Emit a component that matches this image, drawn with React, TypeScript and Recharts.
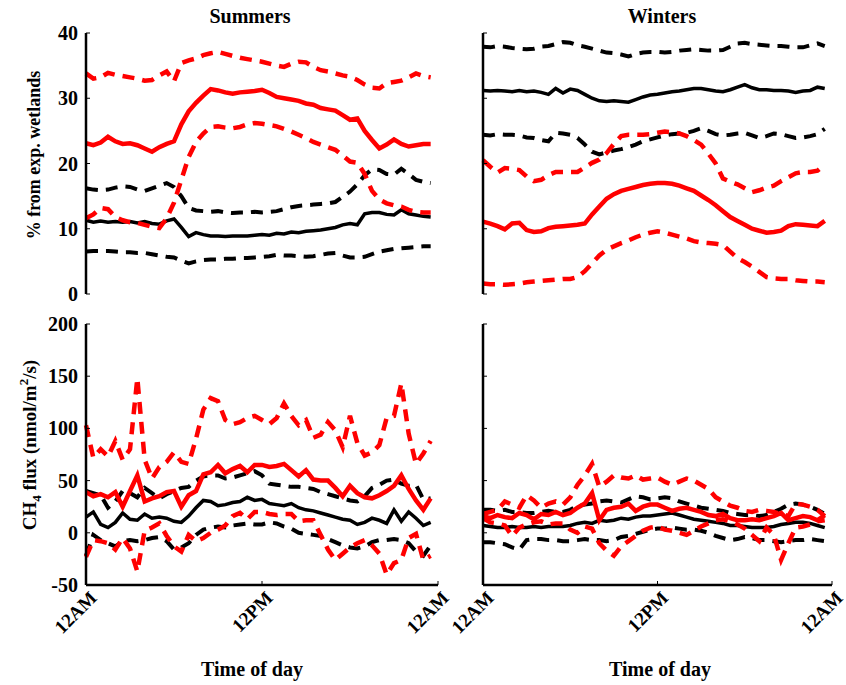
import React from "react";
import { LineChart, Line, XAxis, YAxis } from "recharts";

const FONT = '"Liberation Serif", "Times New Roman", Times, serif';

// half-hour time of day
const HOURS = [
  0, 0.5, 1, 1.5, 2, 2.5, 3, 3.5, 4, 4.5, 5, 5.5, 6, 6.5, 7, 7.5, 8, 8.5, 9, 9.5, 10, 10.5, 11, 11.5,
  12, 12.5, 13, 13.5, 14, 14.5, 15, 15.5, 16, 16.5, 17, 17.5, 18, 18.5, 19, 19.5, 20, 20.5, 21, 21.5, 22, 22.5, 23, 23.5,
];

// % from exp. wetlands, summers
const sumPctRed = [
  23.1, 22.8, 23.2, 24.1, 23.4, 23.0, 23.1, 22.8, 22.3, 21.8, 22.5, 23.0, 23.4, 26.0, 28.0, 29.3, 30.4, 31.4, 31.2, 30.9, 30.7, 30.9, 31.0, 31.1,
  31.3, 30.8, 30.2, 30.0, 29.8, 29.6, 29.2, 29.0, 28.5, 28.3, 28.1, 27.4, 26.7, 26.9, 25.0, 23.6, 22.3, 22.9, 23.7, 23.0, 22.6, 22.8, 23.0, 23.0,
];
const sumPctRedHi = [
  33.8, 33.0, 33.2, 33.9, 33.6, 33.4, 33.2, 33.0, 32.7, 32.8, 33.5, 34.1, 32.6, 35.4, 35.8, 36.1, 36.6, 36.9, 37.1, 36.8, 36.5, 36.2, 36.0, 35.8,
  35.6, 35.3, 35.0, 34.8, 35.3, 35.6, 35.5, 34.8, 34.3, 34.1, 33.8, 33.5, 33.3, 32.8, 32.1, 31.6, 31.5, 32.3, 32.5, 32.7, 33.2, 33.8, 33.4, 33.2,
];
const sumPctRedLo = [
  11.6, 12.2, 13.2, 13.0, 11.8, 11.3, 11.0, 10.9, 10.6, 10.3, 10.1, 11.6, 14.0, 17.5, 21.0, 23.3, 24.6, 25.6, 25.7, 25.5, 25.4, 25.6, 26.0, 26.2,
  26.1, 25.9, 25.7, 25.3, 24.9, 24.4, 23.9, 23.3, 22.9, 22.5, 22.1, 21.2, 20.3, 20.1, 18.4, 15.8, 14.5, 13.9, 13.6, 13.4, 12.9, 12.6, 12.5, 12.5,
];
const sumPctBlk = [
  11.3, 11.0, 11.2, 11.0, 11.1, 11.0, 11.1, 10.9, 11.1, 10.8, 10.7, 11.2, 11.5, 10.2, 8.8, 9.4, 9.1, 8.9, 8.9, 8.8, 8.9, 8.9, 8.9, 9.0,
  9.1, 9.0, 9.3, 9.2, 9.5, 9.4, 9.6, 9.7, 9.8, 10.0, 10.2, 10.6, 10.8, 10.6, 12.3, 12.5, 12.5, 12.2, 12.1, 12.9, 12.3, 12.1, 11.9, 11.8,
];
const sumPctBlkHi = [
  16.2, 16.0, 15.9, 16.0, 16.3, 16.5, 16.4, 16.0, 15.8, 16.2, 16.6, 17.0, 16.4, 15.0, 13.2, 12.8, 12.7, 12.6, 12.7, 12.5, 12.4, 12.5, 12.5, 12.6,
  12.5, 12.6, 12.7, 13.0, 13.3, 13.5, 13.6, 13.7, 13.8, 13.9, 14.1, 14.9, 15.7, 16.8, 18.2, 19.1, 19.0, 18.4, 18.3, 19.2, 18.4, 17.5, 17.2, 17.0,
];
const sumPctBlkLo = [
  6.5, 6.6, 6.6, 6.6, 6.5, 6.4, 6.4, 6.3, 6.3, 6.1, 5.9, 5.7, 5.6, 5.1, 4.7, 5.0, 5.2, 5.3, 5.3, 5.4, 5.4, 5.5, 5.5, 5.6,
  5.7, 5.8, 6.0, 5.9, 5.9, 5.8, 5.7, 5.8, 6.0, 6.2, 6.3, 5.9, 5.6, 5.6, 5.7, 6.1, 6.5, 6.7, 6.9, 7.0, 7.1, 7.2, 7.3, 7.3,
];

// % from exp. wetlands, winters
const winPctRed = [
  11.1, 10.8, 10.4, 9.9, 10.8, 10.9, 9.8, 9.5, 9.6, 10.1, 10.3, 10.4, 10.5, 10.6, 10.8, 12.2, 13.4, 14.6, 15.3, 15.8, 16.1, 16.4, 16.7, 16.9,
  17.0, 17.0, 16.9, 16.6, 16.2, 15.8, 15.1, 14.4, 13.6, 12.7, 11.8, 11.2, 10.6, 10.0, 9.7, 9.4, 9.5, 9.7, 10.4, 10.7, 10.6, 10.5, 10.4, 11.2,
];
const winPctRedHi = [
  20.5, 19.5, 18.6, 19.3, 19.2, 19.0, 18.0, 17.3, 17.5, 18.2, 18.7, 18.7, 18.7, 18.7, 19.4, 20.1, 20.6, 21.6, 23.0, 24.2, 24.4, 24.4, 24.4, 24.5,
  24.7, 24.9, 24.8, 24.6, 24.2, 23.6, 22.9, 21.5, 20.0, 17.7, 17.2, 16.8, 16.2, 15.6, 15.9, 16.3, 16.6, 17.3, 17.9, 18.5, 18.7, 18.7, 18.9, 19.8,
];
const winPctRedLo = [
  1.6, 1.5, 1.5, 1.4, 1.5, 1.6, 1.8, 1.9, 2.0, 2.1, 2.2, 2.3, 2.3, 2.6, 3.5, 4.7, 5.9, 6.8, 7.3, 7.8, 8.2, 8.7, 9.1, 9.4,
  9.6, 9.4, 9.1, 8.8, 8.5, 8.1, 7.9, 7.8, 7.7, 7.5, 6.5, 5.5, 4.9, 4.2, 3.4, 2.6, 2.4, 2.3, 2.3, 2.1, 2.0, 1.9, 1.9, 1.8,
];
const winPctBlk = [
  31.2, 31.1, 31.2, 31.1, 31.0, 31.2, 31.0, 31.1, 30.9, 30.6, 31.5, 30.8, 31.4, 31.2, 30.6, 30.0, 29.6, 29.5, 29.6, 29.5, 29.4, 29.8, 30.2, 30.5,
  30.6, 30.8, 31.0, 31.1, 31.3, 31.5, 31.5, 31.3, 31.1, 31.0, 31.3, 31.7, 32.1, 31.6, 31.3, 31.3, 31.2, 31.2, 31.1, 30.9, 31.1, 31.2, 31.7, 31.5,
];
const winPctBlkHi = [
  37.9, 37.8, 38.0, 37.9, 37.7, 37.6, 37.5, 37.6, 37.9, 38.0, 38.3, 38.6, 38.5, 38.1, 37.9, 37.6, 37.3, 37.0, 36.9, 36.7, 36.4, 36.8, 37.0, 37.1,
  37.1, 37.0, 37.1, 37.3, 37.4, 37.5, 37.4, 37.3, 37.3, 37.4, 37.9, 38.4, 38.5, 38.3, 38.2, 38.1, 38.0, 38.0, 37.9, 37.8, 37.8, 38.1, 38.4, 38.0,
];
const winPctBlkLo = [
  24.4, 24.3, 24.5, 24.4, 24.4, 24.3, 24.0, 23.9, 23.6, 23.4, 24.7, 24.6, 24.4, 23.9, 22.9, 21.8, 21.4, 21.7, 22.0, 22.2, 22.5, 22.9, 23.4, 23.7,
  24.0, 24.3, 24.5, 24.6, 24.7, 25.0, 25.4, 25.0, 24.5, 24.3, 24.4, 24.6, 24.7, 24.3, 23.9, 24.2, 24.6, 24.5, 24.2, 23.9, 24.0, 24.2, 24.5, 25.3,
];

// CH4 flux, summers
const sumFluxRed = [
  39, 35, 37, 34, 39, 25, 40, 55, 30, 33, 35, 39, 40, 25, 36, 40, 56, 58, 65, 57, 61, 64, 58, 65,
  65, 63, 64, 66, 60, 54, 60, 51, 50, 50, 43, 35, 45, 38, 34, 33, 36, 40, 45, 55, 42, 31, 22, 33,
];
const sumFluxRedHi = [
  103, 72, 80, 73, 88, 70, 80, 148, 70, 52, 63, 68, 77, 68, 66, 90, 118, 129, 126, 108, 104, 106, 110, 112,
  108, 104, 110, 124, 112, 103, 108, 91, 94, 106, 98, 82, 112, 86, 74, 77, 84, 110, 112, 143, 95, 66, 76, 88,
];
const sumFluxRedLo = [
  -23, -7, -8, -10, -16, -5, -15, -37, 2, 5, 9, -3, -13, -18, -2, -8, -5, 0, 3, 7, 16, 19, 13, 20,
  20, 18, 17, 18, 18, 11, 12, 12, -2, -16, -26, -20, -14, -10, -7, -12, -20, -40, -29, -26, -5, -1, -26, -22,
];
const sumFluxBlk = [
  15, 20, 8, 5, 10, 19, 13, 12, 18, 14, 15, 14, 11, 10, 16, 24, 31, 30, 26, 27, 29, 30, 34, 31,
  32, 28, 27, 26, 28, 24, 22, 21, 19, 17, 15, 13, 12, 8, 10, 14, 12, 9, 22, 11, 20, 14, 7, 10,
];
const sumFluxBlkHi = [
  40, 38, 36, 24, 30, 40, 38, 34, 43, 38, 33, 37, 40, 43, 44, 50, 54, 55, 55, 52, 53, 55, 57, 59,
  55, 47, 46, 45, 44, 44, 43, 42, 39, 37, 35, 33, 31, 30, 35, 43, 46, 50, 51, 47, 45, 46, 32, 33,
];
const sumFluxBlkLo = [
  -22, -2, -7, -10, -13, -8, -7, -8, -7, -5, -4, -8, -16, -14, -10, -2, 3, 5, 6, 5, 7, 8, 9, 8,
  8, 10, 9, 6, 4, 0, -1, -2, -3, -6, -9, -12, -14, -15, -13, -9, -7, -7, -6, -7, -10, -18, -22, -12,
];

// CH4 flux, winters
const winFluxRed = [
  16, 14, 17, 15, 14, 19, 17, 13, 18, 17, 20, 17, 19, 24, 28, 38, 12, 22, 24, 25, 28, 21, 25, 27,
  27, 24, 21, 23, 24, 22, 20, 17, 16, 18, 14, 12, 12, 13, 12, 14, 16, 19, 12, 14, 16, 15, 12, 17,
];
const winFluxRedHi = [
  18, 20, 22, 30, 27, 24, 36, 31, 24, 28, 30, 27, 34, 46, 55, 66, 44, 49, 55, 53, 52, 55, 51, 52,
  53, 49, 46, 49, 52, 50, 46, 42, 34, 30, 26, 24, 21, 20, 22, 21, 20, 18, 16, 28, 27, 25, 22, 16,
];
const winFluxRedLo = [
  14, 10, 9, 7, -3, 5, 8, 10, 11, 8, 9, 9, 3, 0, 6, 4, -10, -17, -22, -13, -8, -3, 2, 5,
  6, 3, 2, 0, -2, 2, 6, 9, 12, 13, 11, 8, 4, -2, -8, 5, -2, -26, -10, 5, 6, 8, 11, 12,
];
const winFluxBlk = [
  7, 6, 5, 5, 6, 5, 5, 6, 5, 6, 6, 6, 7, 9, 10, 9, 12, 11, 12, 14, 13, 15, 16, 16,
  17, 18, 19, 17, 15, 13, 12, 11, 10, 9, 7, 7, 6, 5, 5, 5, 6, 8, 9, 10, 10, 9, 7, 5,
];
const winFluxBlkHi = [
  22, 22, 21, 22, 20, 20, 19, 19, 20, 21, 20, 20, 22, 26, 27, 28, 30, 31, 30, 29, 32, 35, 34, 32,
  33, 34, 33, 30, 28, 26, 24, 23, 22, 21, 19, 18, 17, 17, 16, 17, 20, 23, 27, 28, 27, 25, 22, 18,
];
const winFluxBlkLo = [
  -9, -9, -10, -11, -14, -16, -7, -6, -6, -7, -7, -8, -8, -7, -6, -7, -7, -8, -7, -4, -3, -1, 1, 3,
  4, 4, 5, 4, 3, 3, 2, 0, -3, -5, -7, -6, -4, -5, -7, -7, -8, -9, -8, -7, -7, -6, -7, -8,
];

const PCT_TICKS = [0, 10, 20, 30, 40];
const FLUX_TICKS = [-50, 0, 50, 100, 150, 200];
const TOP_X_TICKS = [0, 4.8, 9.6, 14.4, 19.2, 24];
const BOTTOM_X_TICKS = [0, 12, 24];
const TIME_LABELS: Record<number, string> = { 0: "12AM", 12: "12PM", 24: "12AM" };

const SERIES = [
  { key: "blkHi", color: "#000000", width: 4, dash: "12 8" },
  { key: "blkLo", color: "#000000", width: 4, dash: "12 8" },
  { key: "blk", color: "#000000", width: 3.5 },
  { key: "redHi", color: "#ff0000", width: 4.5, dash: "12 8" },
  { key: "redLo", color: "#ff0000", width: 4.5, dash: "12 8" },
  { key: "red", color: "#ff0000", width: 4.5 },
];

function buildRows(red: number[], redHi: number[], redLo: number[], blk: number[], blkHi: number[], blkLo: number[]) {
  return HOURS.map((h, i) => ({
    h,
    red: red[i],
    redHi: redHi[i],
    redLo: redLo[i],
    blk: blk[i],
    blkHi: blkHi[i],
    blkLo: blkLo[i],
  }));
}

function YTick(props: any) {
  const { x, y, payload, show } = props;
  return (
    <g>
      <line x1={x} y1={y} x2={x + 4} y2={y} stroke="#000" strokeWidth={1} />
      {show && (
        <text x={x - 8} y={y} dy={7} textAnchor="end" fontFamily={FONT} fontWeight="bold" fontSize={20} fill="#000">
          {payload.value}
        </text>
      )}
    </g>
  );
}

function XTick(props: any) {
  const { x, y, payload, show } = props;
  return (
    <g>
      <line x1={x} y1={y} x2={x} y2={y - 4} stroke="#000" strokeWidth={1} />
      {show && (
        <text
          transform={`translate(${x + 12},${y + 14}) rotate(-45)`}
          textAnchor="end"
          fontFamily={FONT}
          fontWeight="bold"
          fontSize={19}
          fill="#000"
        >
          {TIME_LABELS[payload.value]}
        </text>
      )}
    </g>
  );
}

type PanelProps = {
  data: ReturnType<typeof buildRows>;
  left: number;
  top: number;
  width: number;
  height: number;
  margin: { top: number; right: number; bottom: number; left: number };
  yDomain: [number, number];
  yTicks: number[];
  xTicks: number[];
  yLabels: boolean;
  xLabels: boolean;
  xHeight: number;
};

function Panel(p: PanelProps) {
  return (
    <div style={{ position: "absolute", left: p.left, top: p.top }}>
      <LineChart width={p.width} height={p.height} data={p.data} margin={p.margin}>
        <XAxis
          dataKey="h"
          type="number"
          domain={[0, 24]}
          ticks={p.xTicks}
          interval={0}
          height={p.xHeight}
          tickSize={0}
          tickMargin={0}
          axisLine={{ stroke: "#000", strokeWidth: 2.5 }}
          tick={(t: any) => <XTick {...t} show={p.xLabels} />}
        />
        <YAxis
          type="number"
          domain={p.yDomain}
          ticks={p.yTicks}
          interval={0}
          width={50}
          tickSize={0}
          tickMargin={0}
          axisLine={{ stroke: "#000", strokeWidth: 2.5 }}
          tick={(t: any) => <YTick {...t} show={p.yLabels} />}
        />
        {SERIES.map((s) => (
          <Line
            key={s.key}
            dataKey={s.key}
            type="linear"
            stroke={s.color}
            strokeWidth={s.width}
            strokeDasharray={s.dash}
            dot={false}
            activeDot={false}
            isAnimationActive={false}
          />
        ))}
      </LineChart>
    </div>
  );
}

const txt = { fontFamily: FONT, fontWeight: "bold" as const, fill: "#000" };

export default function App() {
  const sumPct = buildRows(sumPctRed, sumPctRedHi, sumPctRedLo, sumPctBlk, sumPctBlkHi, sumPctBlkLo);
  const winPct = buildRows(winPctRed, winPctRedHi, winPctRedLo, winPctBlk, winPctBlkHi, winPctBlkLo);
  const sumFlux = buildRows(sumFluxRed, sumFluxRedHi, sumFluxRedLo, sumFluxBlk, sumFluxBlkHi, sumFluxBlkLo);
  const winFlux = buildRows(winFluxRed, winFluxRedHi, winFluxRedLo, winFluxBlk, winFluxBlkHi, winFluxBlkLo);

  return (
    <div style={{ position: "absolute", left: 0, top: 0, width: 846, height: 685, background: "#fff", overflow: "hidden" }}>
      <Panel
        data={sumPct}
        left={0}
        top={0}
        width={460}
        height={320}
        margin={{ top: 33, right: 22, bottom: 26, left: 36 }}
        yDomain={[0, 40]}
        yTicks={PCT_TICKS}
        xTicks={TOP_X_TICKS}
        yLabels
        xLabels={false}
        xHeight={0}
      />
      <Panel
        data={winPct}
        left={400}
        top={0}
        width={446}
        height={320}
        margin={{ top: 33, right: 14, bottom: 26, left: 33 }}
        yDomain={[0, 40]}
        yTicks={PCT_TICKS}
        xTicks={TOP_X_TICKS}
        yLabels={false}
        xLabels={false}
        xHeight={0}
      />
      <Panel
        data={sumFlux}
        left={0}
        top={290}
        width={460}
        height={395}
        margin={{ top: 34, right: 22, bottom: 40, left: 36 }}
        yDomain={[-50, 200]}
        yTicks={FLUX_TICKS}
        xTicks={BOTTOM_X_TICKS}
        yLabels
        xLabels
        xHeight={60}
      />
      <Panel
        data={winFlux}
        left={400}
        top={290}
        width={446}
        height={395}
        margin={{ top: 34, right: 14, bottom: 40, left: 33 }}
        yDomain={[-50, 200]}
        yTicks={FLUX_TICKS}
        xTicks={BOTTOM_X_TICKS}
        yLabels={false}
        xLabels
        xHeight={60}
      />
      <svg width={846} height={685} style={{ position: "absolute", left: 0, top: 0, pointerEvents: "none" }}>
        <text x={250} y={23} textAnchor="middle" fontSize={20} {...txt}>Summers</text>
        <text x={662} y={23} textAnchor="middle" fontSize={20} {...txt}>Winters</text>
        <text x={252} y={676} textAnchor="middle" fontSize={20} {...txt}>Time of day</text>
        <text x={660} y={676} textAnchor="middle" fontSize={20} {...txt}>Time of day</text>
        <text transform="translate(40,155) rotate(-90)" textAnchor="middle" fontSize={18} {...txt}>
          % from exp. wetlands
        </text>
        <text transform="translate(36,445) rotate(-90)" textAnchor="middle" fontSize={19} {...txt}>
          CH
          <tspan fontSize={13} dy={5}>4</tspan>
          <tspan dy={-5}> flux (nmol/m</tspan>
          <tspan fontSize={13} dy={-8}>2</tspan>
          <tspan dy={8}>/s)</tspan>
        </text>
      </svg>
    </div>
  );
}
